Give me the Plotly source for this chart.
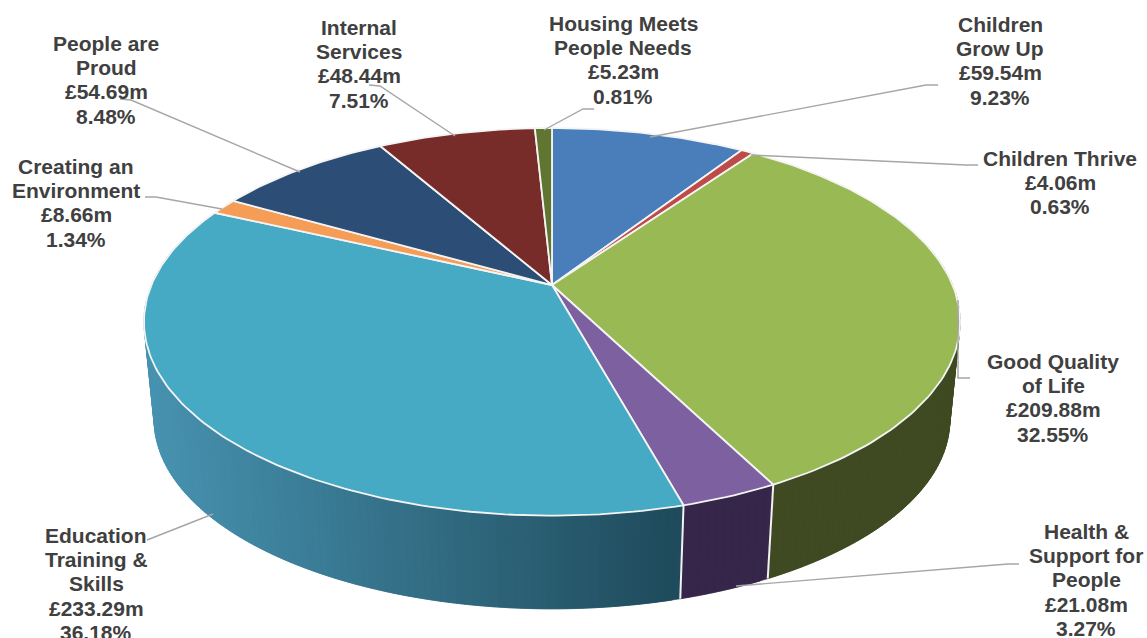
import math
import plotly.graph_objects as go

# ---- data, clockwise from the top of the pie ----
categories = ["Children Grow Up", "Children Thrive", "Good Quality of Life",
              "Health & Support for People", "Education Training & Skills",
              "Creating an Environment", "People are Proud", "Internal Services",
              "Housing Meets People Needs"]
values_m = [59.54, 4.06, 209.88, 21.08, 233.29, 8.66, 54.69, 48.44, 5.23]
share_pct = [9.23, 0.63, 32.55, 3.27, 36.18, 1.34, 8.48, 7.51, 0.81]
label_lines = [["Children", "Grow Up"], ["Children Thrive"], ["Good Quality", "of Life"],
               ["Health &", "Support for", "People"], ["Education", "Training &", "Skills"],
               ["Creating an", "Environment"], ["People are", "Proud"], ["Internal", "Services"],
               ["Housing Meets", "People Needs"]]

# ---- styling ----
top_colors = ["#4A7EBB", "#BE4B48", "#98B954", "#7D60A0", "#46AAC5",
              "#F59D56", "#2C4D75", "#772C2A", "#5F7530"]
side_left = ["#2C4B70", "#71302E", "#3F4A22", "#35264A", "#4792B0",
             "#93602F", "#1A2E46", "#471A19", "#394620"]
side_right = ["#2C4B70", "#71302E", "#3F4A22", "#35264A", "#1F4B5C",
              "#93602F", "#1A2E46", "#471A19", "#394620"]
label_anchor = [(1000, 24), (1060, 158), (1053, 361), (1086, 531), (96, 535),
                (76, 166), (106, 43), (359, 27), (623, 23)]
leaders = [[(938, 85), (926, 85), (650, 137)], [(978, 165), (966, 165), (751, 155)],
           [(958, 300), (958, 378), (970, 378)], [(1019, 564), (1008, 564), (736, 586)],
           [(147, 540), (213, 514)], [(145, 197), (156, 197), (222, 209)],
           [(120, 99), (131, 100), (300, 172)], [(369, 85), (380, 86), (455, 136)],
           [(594, 109), (583, 109), (544, 130)]]
LINE_H = 24.4
FONT_SIZE = 21

# ---- projection of the tilted disc ----
CX, CY = 552, 285
K, A, B = 0.19, 400.6, 186.8
BASE_SCALE, BASE_CY = 0.975, 384
GRAD_X0, GRAD_X1 = 150, 680


def top_pt(theta):
    X, Y = math.sin(theta), math.cos(theta)
    d = 1 + K * Y
    return CX + A * X / d, CY - B * Y / d


def base_pt(theta):
    u, v = top_pt(theta)
    return CX + BASE_SCALE * (u - CX), BASE_CY + BASE_SCALE * (v - CY)


def lerp_hex(a, b, t):
    t = max(0.0, min(1.0, t))
    ca = [int(a[i:i + 2], 16) for i in (1, 3, 5)]
    cb = [int(b[i:i + 2], 16) for i in (1, 3, 5)]
    return "rgb(%d,%d,%d)" % tuple(round(p + (q - p) * t) for p, q in zip(ca, cb))


total = sum(values_m)
bounds = [0.0]
for v in values_m:
    bounds.append(bounds[-1] + v / total * 2 * math.pi)

fig = go.Figure()


def poly(xs, ys, fill, line, width):
    fig.add_trace(go.Scatter(x=xs, y=ys, mode="lines", fill="toself", fillcolor=fill,
                             line=dict(color=line, width=width), hoverinfo="skip",
                             showlegend=False))


FRONT_LIMIT = 0.35  # sides further back than this are hidden behind the top
STEP = math.radians(1.0)

# sides: a run of overlapping quads so the outer silhouette is complete
for i, v in enumerate(values_m):
    a0, a1 = bounds[i], bounds[i + 1]
    n = max(2, int((a1 - a0) / STEP))
    ts = [a0 + (a1 - a0) * j / n for j in range(n + 1)]
    ts = [t for t in ts if math.cos(t) < FRONT_LIMIT]
    if len(ts) < 2:
        continue
    for j in range(len(ts) - 1):
        t0, t1 = ts[j], ts[min(j + 2, len(ts) - 1)]
        q = [top_pt(t0), top_pt(t1), base_pt(t1), base_pt(t0), top_pt(t0)]
        c = lerp_hex(side_left[i], side_right[i],
                     (top_pt(t0)[0] - GRAD_X0) / (GRAD_X1 - GRAD_X0))
        poly([p[0] for p in q], [p[1] for p in q], c, c, 0.6)

# white separators on the side
for i in range(len(values_m)):
    t = bounds[i]
    if math.cos(t) < -0.3:
        p, q = top_pt(t), base_pt(t)
        fig.add_trace(go.Scatter(x=[p[0], q[0]], y=[p[1], q[1]], mode="lines",
                                 line=dict(color="#F2F2F2", width=2), hoverinfo="skip",
                                 showlegend=False))

# top slices
for i, v in enumerate(values_m):
    a0, a1 = bounds[i], bounds[i + 1]
    n = max(2, int((a1 - a0) / STEP))
    pts = [top_pt(a0 + (a1 - a0) * j / n) for j in range(n + 1)]
    xs = [CX] + [p[0] for p in pts] + [CX]
    ys = [CY] + [p[1] for p in pts] + [CY]
    poly(xs, ys, top_colors[i], "#F4F4F4", 1.8)

# leader lines
for pts in leaders:
    fig.add_trace(go.Scatter(x=[p[0] for p in pts], y=[p[1] for p in pts], mode="lines",
                             line=dict(color="#A6A6A6", width=1.4), hoverinfo="skip",
                             showlegend=False))

# labels, one annotation per text line
for i, v in enumerate(values_m):
    lines = label_lines[i] + ["£%.2fm" % v, "%.2f%%" % share_pct[i]]
    x0, y0 = label_anchor[i]
    for j, s in enumerate(lines):
        fig.add_annotation(x=x0, y=y0 + j * LINE_H, xref="x", yref="y", text=s, showarrow=False,
                           xanchor="center", yanchor="middle",
                           font=dict(family="Liberation Sans", size=FONT_SIZE, color="#404040",
                                     weight="bold"))

fig.update_layout(width=1147, height=638, margin=dict(l=0, r=0, t=0, b=0),
                  paper_bgcolor="white", plot_bgcolor="white", showlegend=False,
                  xaxis=dict(range=[0, 1147], visible=False, fixedrange=True),
                  yaxis=dict(range=[638, 0], visible=False, fixedrange=True))
fig.write_html("out.html", config={"displayModeBar": False},
               post_script="document.body.style.margin='0';")
